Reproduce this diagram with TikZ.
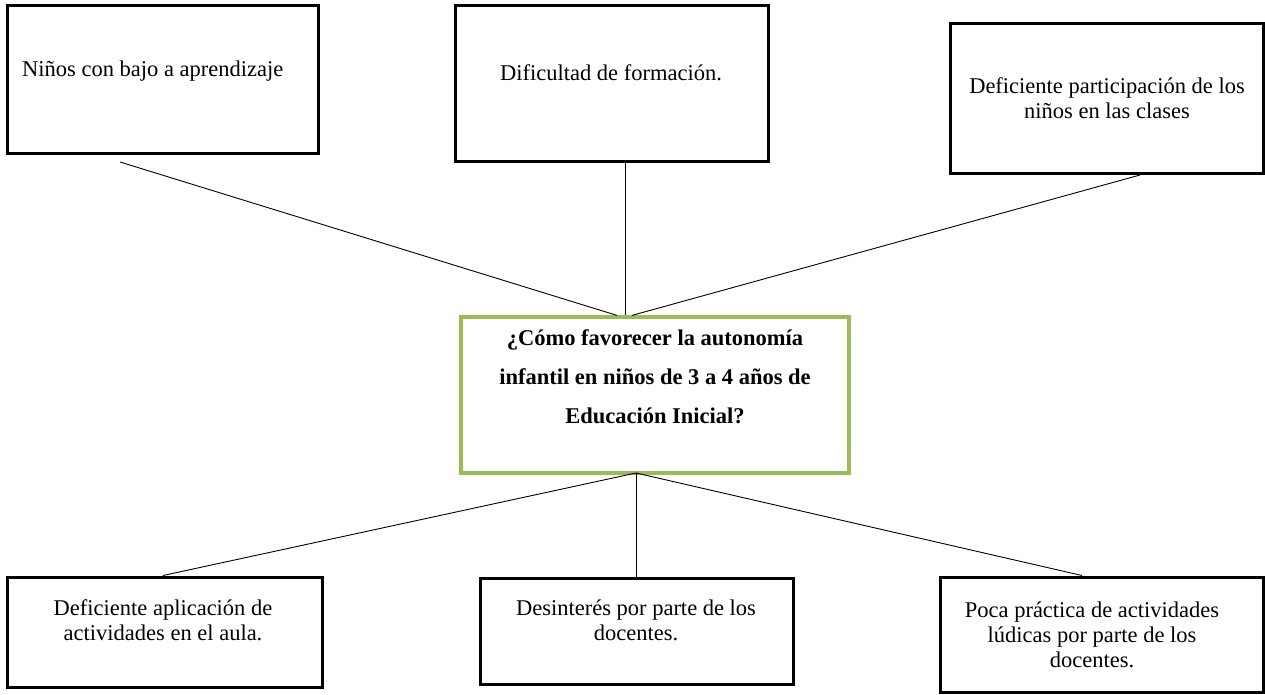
\documentclass[tikz,border=0pt]{standalone}
\usepackage{fontspec}
\setmainfont{Liberation Serif}
\definecolor{boxgreen}{HTML}{9BBB59}
\begin{document}
\begin{tikzpicture}[x=1pt,y=-1pt,
  causebox/.style={draw=black,line width=3pt,inner sep=0pt,minimum width=#1},
  mainbox/.style={draw=boxgreen,line width=3.2pt,inner sep=0pt},
  txt/.style={font=\fontsize{22.5}{25}\selectfont,align=center,inner sep=0pt,anchor=base},
  btxt/.style={font=\fontsize{22.5}{39}\selectfont\bfseries,align=center,inner sep=0pt,anchor=base},
  conn/.style={line width=0.9pt}]
\useasboundingbox (0,0) rectangle (1265,694);
% boxes
\node[causebox=311pt,minimum height=148pt] (b1) at (162.5,79) {};
\node[causebox=313pt,minimum height=156pt] (b2) at (611.5,83) {};
\node[causebox=313pt,minimum height=150pt] (b3) at (1106.5,98) {};
\node[mainbox,minimum width=388pt,minimum height=156pt] (c) at (655,395) {};
\node[causebox=315pt,minimum height=110pt] (d1) at (164.5,632) {};
\node[causebox=313pt,minimum height=106pt] (d2) at (636.5,631) {};
\node[causebox=323pt,minimum height=115pt] (d3) at (1101.5,634.5) {};
% texts
\node[txt,anchor=base west] (t1) at (22,76) {Niños con bajo a aprendizaje};
\node[txt] (t2) at (611,80) {Dificultad de formación.};
\node[txt] (t3) at (1107,118) {Deficiente participación de los\\niños en las clases};
\node[btxt] (tc) at (655,423) {¿Cómo favorecer la autonomía\\infantil en niños de 3 a 4 años de\\Educación Inicial?};
\node[txt] (td1) at (163,640) {Deficiente aplicación de\\actividades en el aula.};
\node[txt] (td2) at (636,640) {Desinterés por parte de los\\docentes.};
\node[txt] (td3) at (1092,667) {Poca práctica de actividades\\lúdicas por parte de los\\docentes.};
% connectors
\coordinate (p1) at (120,162);
\coordinate (p2) at (625,163);
\coordinate (p3) at (1140,175);
\coordinate (q) at (636,473);
\draw[conn] (p1) -- ([xshift=-38pt]c.north);
\draw[conn] (p2) -- ([xshift=-30pt]c.north);
\draw[conn] (p3) -- ([xshift=-23pt]c.north);
\draw[conn] (q) -- ([xshift=-1.5pt]d1.north);
\draw[conn] (q) -- ([xshift=-0.5pt]d2.north);
\draw[conn] (q) -- ([xshift=-19.5pt]d3.north);
\end{tikzpicture}
\end{document}
